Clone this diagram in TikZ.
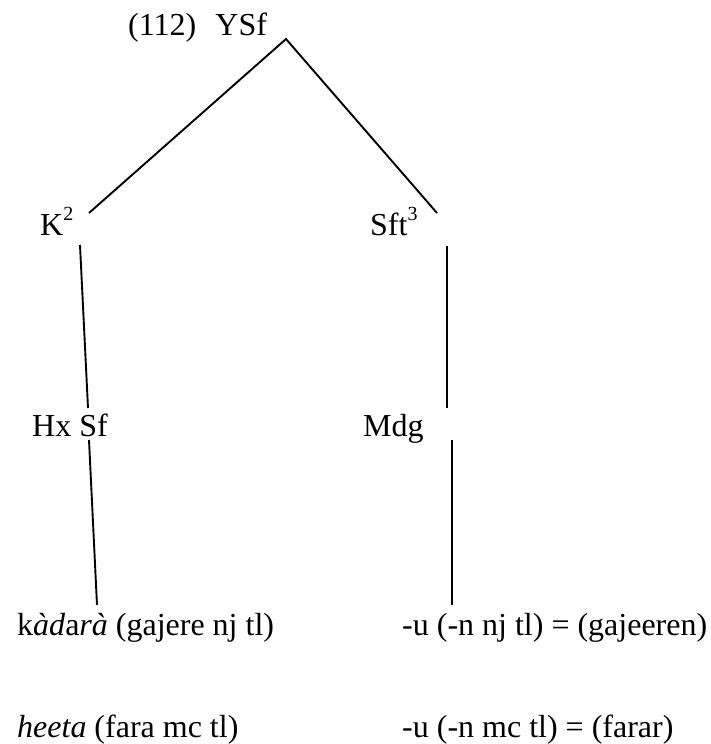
\documentclass[tikz,border=0pt]{standalone}
\usepackage{fontspec}
\setmainfont{Liberation Serif}
\newcommand{\supnum}[1]{\raisebox{15pt}{\fontsize{20}{20}\selectfont #1}}
\tikzset{
  lbl/.style={anchor=base west, inner sep=0pt, font=\fontsize{32}{38}\selectfont},
  branch/.style={line width=1.9pt},
}
\begin{document}
\begin{tikzpicture}[x=1pt, y=-1pt]
\useasboundingbox (0,0) rectangle (710,744);
\node[lbl] (ysf) at (128,35) {(112)\hspace{0.6em}YSf};
\node[lbl] (k) at (40,235) {K\supnum{2}};
\node[lbl] (sft) at (370,235) {Sft\supnum{3}};
\node[lbl] (hxsf) at (32,436) {Hx Sf};
\node[lbl] (mdg) at (363,436) {Mdg};
\node[lbl] (kadara) at (17,635) {k\textit{àd}a\textit{rà} (gajere nj tl)};
\node[lbl] (uNj) at (402,635) {-u (-n nj tl) = (gajeeren)};
\node[lbl] (heeta) at (17,737) {\textit{heeta} (fara mc tl)};
\node[lbl] (uMc) at (402,737) {-u (-n mc tl) = (farar)};

\coordinate (top) at (286,39);
\coordinate (kUp) at (89,213);
\coordinate (kDown) at (80,245);
\coordinate (hxUp) at (88,408);
\coordinate (hxDown) at (89,440);
\coordinate (kadUp) at (97,605);
\coordinate (sftUp) at (437,213);
\coordinate (sftDown) at (447,246);
\coordinate (mdgUp) at (447,408);
\coordinate (mdgDown) at (452,440);
\coordinate (uUp) at (452,605);

\draw[branch] (kUp)--(top)--(sftUp);
\draw[branch] (kDown)--(hxUp);
\draw[branch] (hxDown)--(kadUp);
\draw[branch] (sftDown)--(mdgUp);
\draw[branch] (mdgDown)--(uUp);
\end{tikzpicture}
\end{document}
